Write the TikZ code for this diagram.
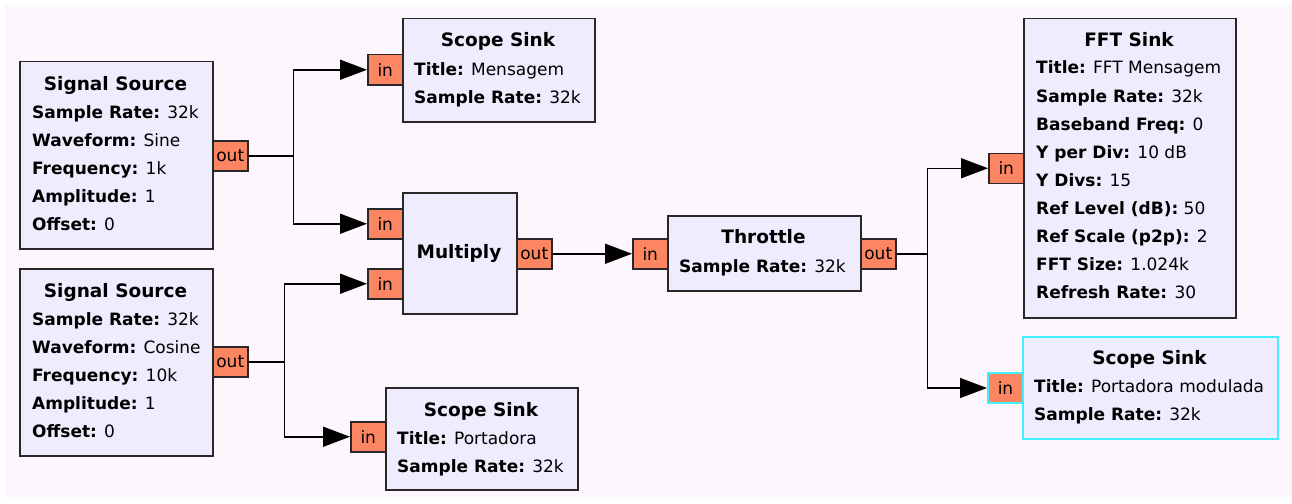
\documentclass[tikz,border=0pt]{standalone}
\usepackage{fontspec}
\setmainfont{DejaVu Sans}
\usetikzlibrary{arrows.meta}
\definecolor{bg}{RGB}{253,247,253}
\definecolor{blockfill}{RGB}{238,236,253}
\definecolor{portfill}{RGB}{252,133,98}
\definecolor{edgegray}{RGB}{40,40,40}
\definecolor{cyanedge}{RGB}{64,240,255}
\tikzset{
 block/.style={draw=edgegray, line width=1.5pt, fill=blockfill, rectangle, inner sep=0pt, anchor=north west},
 port/.style={draw=edgegray, line width=1.5pt, fill=portfill, rectangle, inner sep=0pt, anchor=north west,
   minimum width=35pt, minimum height=30pt, font=\fontsize{17}{20}\selectfont},
 ttl/.style={anchor=base, inner sep=0pt, font=\fontsize{18.5}{22}\selectfont\bfseries},
 prm/.style={anchor=base west, inner sep=0pt, font=\fontsize{17}{20}\selectfont},
 wire/.style={draw=black, line width=1.5pt},
 arr/.style={wire, -{Triangle[length=27pt,width=20pt]}},
 sel/.style={draw=cyanedge, line width=2pt},
}
\begin{document}
\begin{tikzpicture}[x=1pt,y=-1pt]
\useasboundingbox (0,0) rectangle (1292,503);
\fill[white] (0,0) rectangle (1292,503);
\fill[bg] (5,5) rectangle (1292,497);

% Signal Source 1
\node[block, minimum width=193pt, minimum height=187pt] (ss1) at (19,61) {};
\node[ttl] (ss1t) at (115.5,90) {Signal Source};
\node[prm] (ss1a) at (32,118) {\textbf{Sample Rate:} 32k};
\node[prm] (ss1b) at (32,146) {\textbf{Waveform:} Sine};
\node[prm] (ss1c) at (32,174) {\textbf{Frequency:} 1k};
\node[prm] (ss1d) at (32,202) {\textbf{Amplitude:} 1};
\node[prm] (ss1e) at (32,230) {\textbf{Offset:} 0};
\node[port] (ss1o) at (212,140) {out};

% Signal Source 2
\node[block, minimum width=193pt, minimum height=187pt] (ss2) at (19,268) {};
\node[ttl] (ss2t) at (115.5,297) {Signal Source};
\node[prm] (ss2a) at (32,325) {\textbf{Sample Rate:} 32k};
\node[prm] (ss2b) at (32,353) {\textbf{Waveform:} Cosine};
\node[prm] (ss2c) at (32,381) {\textbf{Frequency:} 10k};
\node[prm] (ss2d) at (32,409) {\textbf{Amplitude:} 1};
\node[prm] (ss2e) at (32,437) {\textbf{Offset:} 0};
\node[port] (ss2o) at (212,346) {out};

% Scope Sink 1
\node[block, minimum width=192pt, minimum height=103pt] (sc1) at (402,18) {};
\node[ttl] (sc1t) at (498,47) {Scope Sink};
\node[prm] (sc1a) at (414,75) {\textbf{Title:} Mensagem};
\node[prm] (sc1b) at (414,103) {\textbf{Sample Rate:} 32k};
\node[port] (sc1i) at (367,54) {in};

% Multiply
\node[block, minimum width=114pt, minimum height=121pt] (mul) at (402,192) {};
\node[ttl] (mult) at (459,258) {Multiply};
\node[port] (mi1) at (367,208) {in};
\node[port] (mi2) at (367,268) {in};
\node[port] (mo) at (516,238) {out};

% Throttle
\node[block, minimum width=193pt, minimum height=75pt] (thr) at (667,215) {};
\node[ttl] (thrt) at (763.5,243) {Throttle};
\node[prm] (thra) at (679,272) {\textbf{Sample Rate:} 32k};
\node[port] (thi) at (632,238) {in};
\node[port] (tho) at (860,238) {out};

% FFT Sink
\node[block, minimum width=212pt, minimum height=299pt] (fft) at (1023,18) {};
\node[ttl] (fftt) at (1129,47) {FFT Sink};
\node[prm] (ffta) at (1036,74) {\textbf{Title:} FFT Mensagem};
\node[prm] (fftb) at (1036,102) {\textbf{Sample Rate:} 32k};
\node[prm] (fftc) at (1036,130) {\textbf{Baseband Freq:} 0};
\node[prm] (fftd) at (1036,158) {\textbf{Y per Div:} 10 dB};
\node[prm] (ffte) at (1036,186) {\textbf{Y Divs:} 15};
\node[prm] (fftf) at (1036,214) {\textbf{Ref Level (dB):} 50};
\node[prm] (fftg) at (1036,242) {\textbf{Ref Scale (p2p):} 2};
\node[prm] (ffth) at (1036,270) {\textbf{FFT Size:} 1.024k};
\node[prm] (ffti2) at (1036,298) {\textbf{Refresh Rate:} 30};
\node[port] (ffti) at (988,152.5) {in};

% Scope Sink 3 (selected)
\node[block, sel, minimum width=255pt, minimum height=102pt] (sc3) at (1022,336) {};
\node[ttl] (sc3t) at (1149.5,364) {Scope Sink};
\node[prm] (sc3a) at (1034,392) {\textbf{Title:} Portadora modulada};
\node[prm] (sc3b) at (1034,420) {\textbf{Sample Rate:} 32k};
\node[port, sel] (sc3i) at (987,372) {in};

% Scope Sink 2
\node[block, minimum width=192pt, minimum height=102pt] (sc2) at (385,387) {};
\node[ttl] (sc2t) at (481,416) {Scope Sink};
\node[prm] (sc2a) at (397,444) {\textbf{Title:} Portadora};
\node[prm] (sc2b) at (397,472) {\textbf{Sample Rate:} 32k};
\node[port] (sc2i) at (350,421) {in};

% Connections
\draw[arr] (ss1o.east) -- ++(45,0) |- (sc1i.west);
\draw[arr] (ss1o.east) -- ++(45,0) |- (mi1.west);
\draw[arr] (ss2o.east) -- ++(36,0) |- (mi2.west);
\draw[arr] (ss2o.east) -- ++(36,0) |- (sc2i.west);
\draw[arr] (mo.east) -- (thi.west);
\draw[arr] (tho.east) -- ++(31,0) |- (ffti.west);
\draw[arr] (tho.east) -- ++(31,0) |- (sc3i.west);
\end{tikzpicture}
\end{document}
